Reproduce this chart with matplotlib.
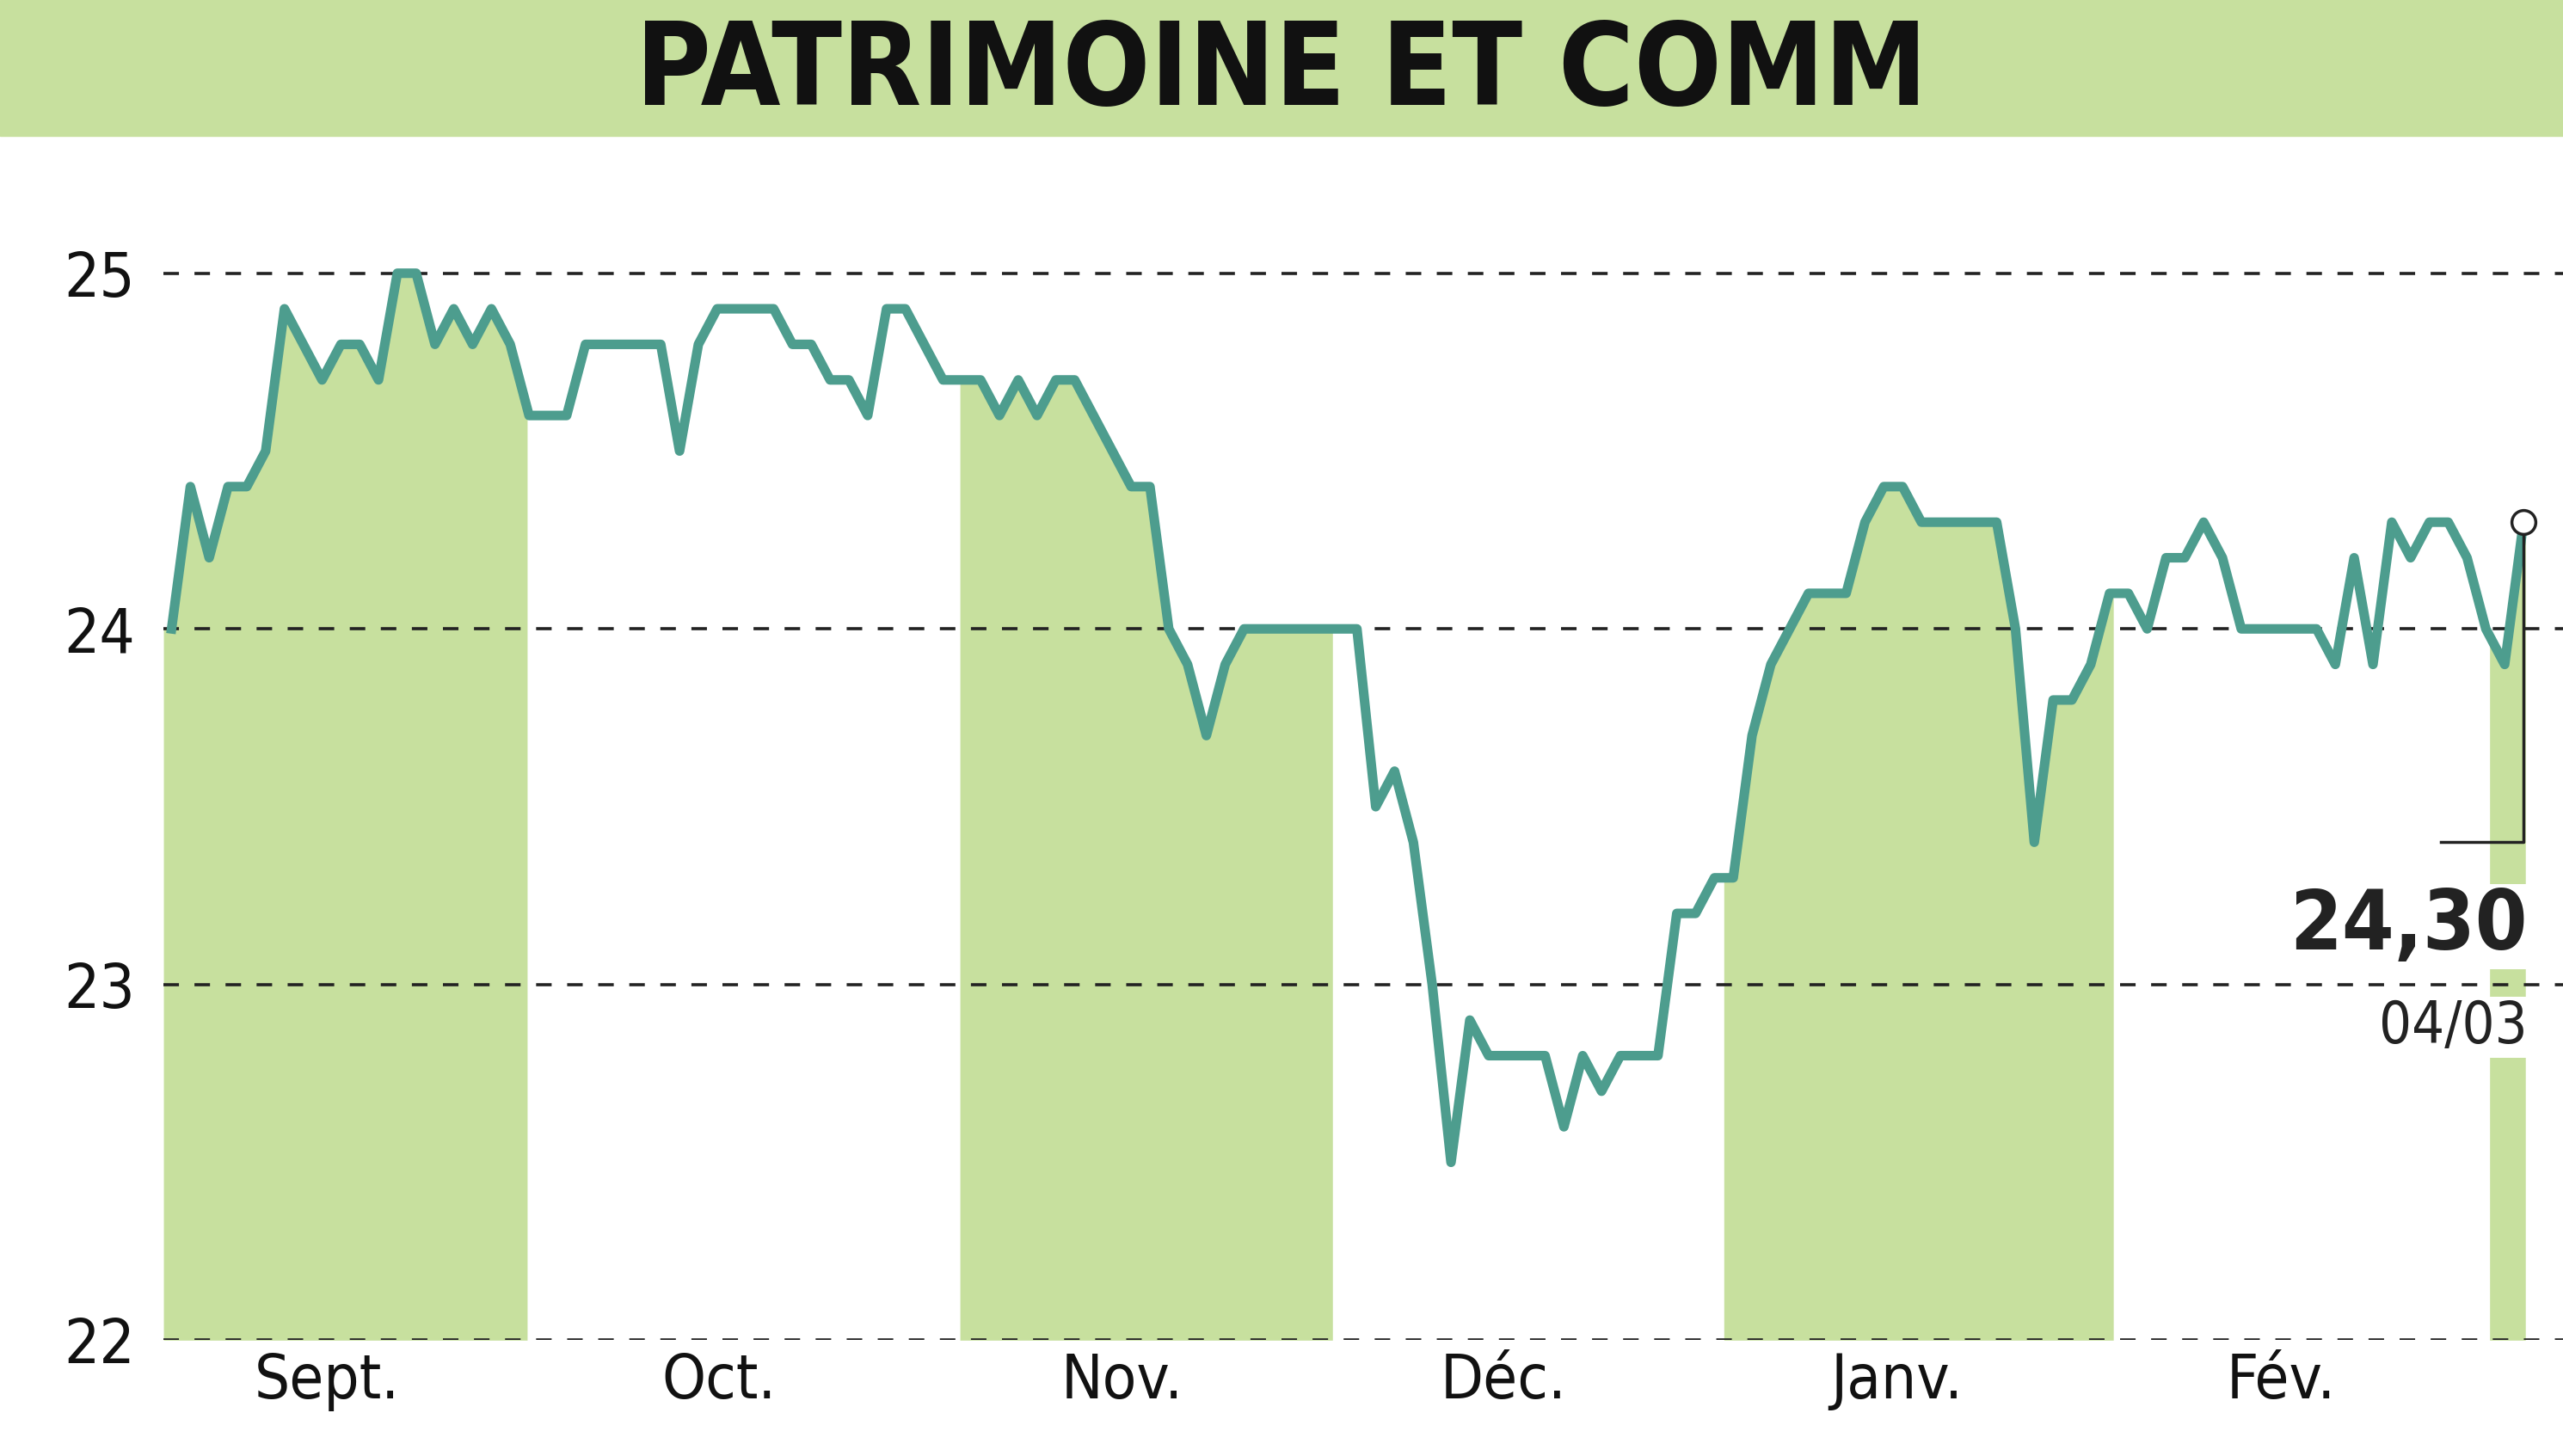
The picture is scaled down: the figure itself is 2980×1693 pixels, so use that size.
import matplotlib
matplotlib.use("Agg")
import matplotlib.pyplot as plt
import numpy as np
from matplotlib.patches import Rectangle

prices = [24.0,24.4,24.2,24.4,24.4,24.5,24.9,24.8,24.7,24.8,24.8,24.7,25.0,25.0,24.8,24.9,24.8,24.9,24.8,24.6,
          24.6,24.6,24.8,24.8,24.8,24.8,24.8,24.5,24.8,24.9,24.9,24.9,24.9,24.8,24.8,24.7,24.7,24.6,24.9,24.9,
          24.8,24.7,24.7,24.7,24.6,24.7,24.6,24.7,24.7,24.6,24.5,24.4,24.4,24.0,23.9,23.7,23.9,24.0,24.0,24.0,
          24.0,24.0,24.0,24.0,23.5,23.6,23.4,23.0,22.5,22.9,22.8,22.8,22.8,22.8,22.6,22.8,22.7,22.8,22.8,22.8,
          23.2,23.2,23.3,23.3,23.7,23.9,24.0,24.1,24.1,24.1,24.3,24.4,24.4,24.3,24.3,24.3,24.3,24.3,24.0,23.4,
          23.8,23.8,23.9,24.1,24.1,24.0,24.2,24.2,24.3,24.2,24.0,24.0,24.0,24.0,24.0,23.9,24.2,23.9,24.3,24.2,
          24.3,24.3,24.2,24.0,23.9,24.3]
months = ["Sept.", "Oct.", "Nov.", "Déc.", "Janv.", "Fév."]
month_pos = [8.25, 29.1, 50.5, 70.8, 91.7, 112.1]
bands = [(-0.43, 18.9), (41.9, 61.7), (82.5, 103.2), (123.2, 125.1)]
yticks = [22, 23, 24, 25]
last_label = "24,30"
last_date = "04/03"

GREEN = "#c7e09e"
LINE = "#4d9d8e"
plt.rcParams['font.family'] = ["DejaVu Sans"]
plt.rcParams['font.stretch'] = "condensed"

fig = plt.figure(figsize=(29.8, 16.93), dpi=100)
fig.patches.append(Rectangle((0, 1-82/880), 1, 82/880, transform=fig.transFigure, color=GREEN, zorder=0))
fig.text(0.5, 1-44/880, "PATRIMOINE ET COMM", ha="center", va="center", fontsize=96,
         fontweight="bold", fontstretch="condensed", color="#111111")

ax = fig.add_axes([100/1568, 1-810/880, 1468/1568, 690/880])
x = np.arange(len(prices))
y = np.array(prices)
ax.set_xlim(-0.43, 127.1)
ax.set_ylim(22, 25.21)
for a, b in bands:
    xx = np.linspace(a, b, 200)
    ax.fill_between(xx, 22, np.interp(xx, x, y), color=GREEN, lw=0, zorder=1)
for t in yticks:
    ax.axhline(t, color="#222222", lw=2.6, ls=(0, (5, 5)), zorder=2)
ax.plot(x, y, color=LINE, lw=8, zorder=3, solid_joinstyle="round")
ax.plot(x[-1], y[-1], 'o', ms=20, mfc="white", mec="#222222", mew=2.5, zorder=5)
ax.plot([x[-1], x[-1], 120.6], [y[-1], 23.4, 23.4], color="#222222", lw=2.5, zorder=4)
ax.text(125.2, 23.05, last_label, ha="right", va="bottom", fontsize=70, fontweight="bold",
        color="#222222", zorder=6, bbox=dict(fc="white", ec="none", pad=2))
ax.text(125.2, 22.8, last_date, ha="right", va="bottom", fontsize=48,
        color="#222222", zorder=6, bbox=dict(fc="white", ec="none", pad=2))
for s in ax.spines.values():
    s.set_visible(False)
ax.set_yticks(yticks)
ax.set_yticklabels([str(t) for t in yticks], fontsize=52, color="#111111")
ax.set_xticks(month_pos)
ax.set_xticklabels(months, fontsize=52, color="#111111")
ax.tick_params(length=0, pad=10)
ax.tick_params(axis='y', pad=24)
fig.savefig("out.png", dpi=100, facecolor="white")
